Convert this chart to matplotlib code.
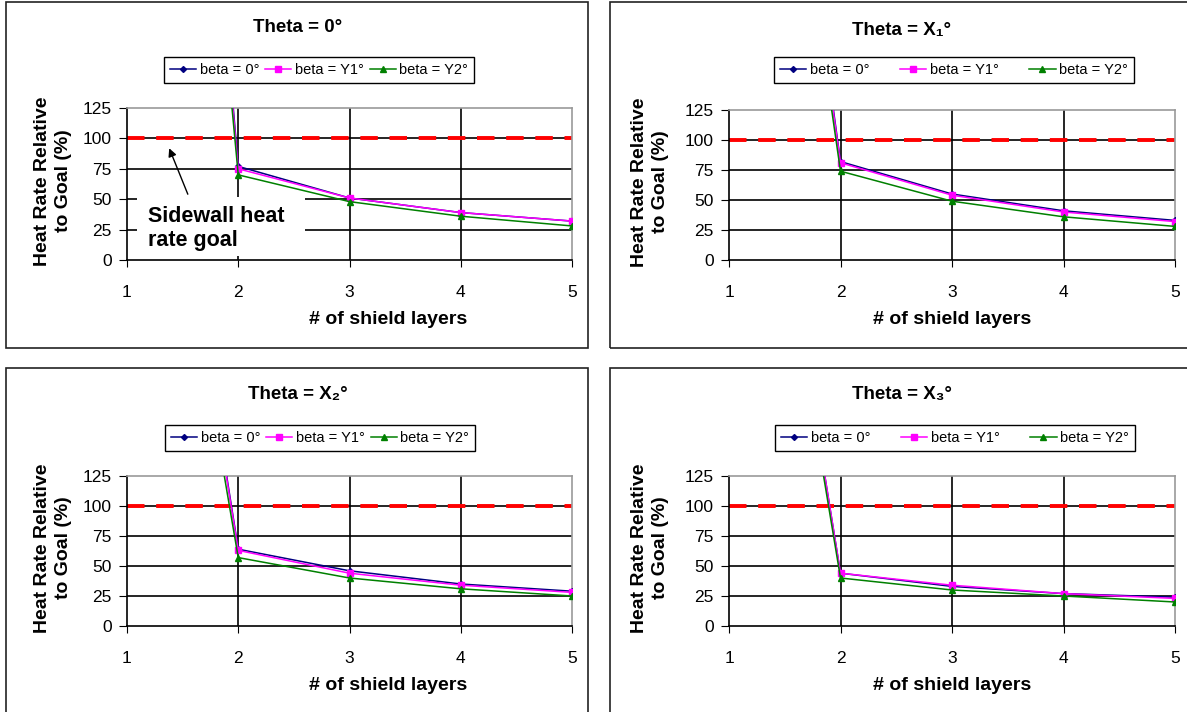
import numpy as np
import matplotlib
matplotlib.use("Agg")
import matplotlib.pyplot as plt
from matplotlib.patches import Rectangle

plt.rcParams['font.family'] = ['Liberation Sans', 'DejaVu Sans']

layers = [1, 2, 3, 4, 5]
goal = 100

# heat rate relative to goal (%), one list per panel and beta value
theta0_b0 = [1150, 77, 51, 39, 32]
theta0_y1 = [1100, 75, 51, 39, 32]
theta0_y2 = [1050, 70, 48, 36, 28]

theta1_b0 = [760, 82, 55, 41, 33]
theta1_y1 = [740, 81, 54, 40, 32]
theta1_y2 = [720, 74, 49, 36, 28]

theta2_b0 = [650, 64, 46, 35, 29]
theta2_y1 = [640, 63, 44, 34, 28]
theta2_y2 = [600, 57, 40, 31, 25]

theta3_b0 = [620, 44, 33, 27, 24]
theta3_y1 = [620, 44, 34, 27, 23]
theta3_y2 = [600, 40, 30, 25, 20]

titles = ["Theta = 0°", "Theta = X\u2081°", "Theta = X\u2082°", "Theta = X\u2083°"]
series_labels = ["beta = 0°", "beta = Y1°", "beta = Y2°"]
yticks = [0, 25, 50, 75, 100, 125]
panels = [
	(theta0_b0, theta0_y1, theta0_y2),
	(theta1_b0, theta1_y1, theta1_y2),
	(theta2_b0, theta2_y1, theta2_y2),
	(theta3_b0, theta3_y1, theta3_y2),
]

W, H = 1187, 712
fig = plt.figure(figsize=(W/100, H/100), dpi=100)

def fx(px):
	return px / W

def fy(py):
	return 1 - py / H

# panel geometry in pixels: box, axes, title, legend, labels
layout = [
	dict(box=(6, 2, 588, 348), ax=(127, 108, 572, 260), cx=298, ty=28, lx=319, ly=70, ylx=53, xlx=388, xly=320),
	dict(box=(610, 2, 1195, 348), ax=(729, 110, 1175, 260), cx=902, ty=30, lx=954, ly=70, ylx=650, xlx=952, xly=320),
	dict(box=(6, 368, 588, 720), ax=(127, 476, 572, 626), cx=298, ty=394, lx=320, ly=438, ylx=53, xlx=388, xly=685),
	dict(box=(610, 368, 1195, 720), ax=(729, 476, 1175, 626), cx=902, ty=394, lx=955, ly=438, ylx=650, xlx=952, xly=685),
]

colors = ['#000080', '#FF00FF', '#008000']
markers = ['D', 's', '^']
msizes = [3, 4.5, 4.5]

for i in range(4):
	L = layout[i]
	bx0, by0, bx1, by1 = L['box']
	fig.patches.append(Rectangle((fx(bx0), fy(by1)), fx(bx1 - bx0), (by1 - by0) / H,
		transform=fig.transFigure, fill=False, edgecolor='#222222', lw=1.2))
	ax0, ay0, ax1, ay1 = L['ax']
	ax = fig.add_axes([fx(ax0), fy(ay1), fx(ax1 - ax0), (ay1 - ay0) / H])
	ax.set_xlim(1, 5)
	ax.set_ylim(0, 125)
	ax.set_xticks(layers)
	ax.set_yticks(yticks)
	ax.tick_params(axis='x', direction='out', length=5, pad=13, labelsize=12.5)
	ax.tick_params(axis='y', direction='out', length=6, pad=5, labelsize=12.5)
	for s in ['left', 'bottom']:
		ax.spines[s].set_color('black')
		ax.spines[s].set_linewidth(1.2)
	for s in ['top', 'right']:
		ax.spines[s].set_color('#999999')
		ax.spines[s].set_linewidth(1.2)
	for y in yticks[1:-1]:
		ax.axhline(y, color='black', lw=1.2, zorder=1)
	for x in layers[1:-1]:
		ax.axvline(x, color='black', lw=1.2, zorder=1)
	ax.axhline(goal, color='red', lw=2.8, dashes=(4.5, 3), zorder=2)
	handles = []
	for k in range(3):
		h, = ax.plot(layers, panels[i][k], color=colors[k], marker=markers[k], ms=msizes[k],
			lw=1.1, zorder=3 + k, label=series_labels[k])
		handles.append(h)
	fig.text(fx(L['cx']), fy(L['ty']), titles[i], ha='center', va='center', fontsize=13.5, fontweight='bold')
	leg = fig.legend(handles, series_labels, loc='center', bbox_to_anchor=(fx(L['lx']), fy(L['ly'])),
		ncol=3, fontsize=10.5, frameon=True, fancybox=False, edgecolor='black', framealpha=1,
		handlelength=1.8, handletextpad=0.25, columnspacing=0.4 if i % 2 == 0 else 2.1,
		borderpad=0.4, numpoints=1)
	leg.get_frame().set_linewidth(1.0)
	fig.text(fx(L['ylx']), fy((ay0 + ay1) / 2 - 3), "Heat Rate Relative\nto Goal (%)", rotation=90,
		ha='center', va='center', multialignment='center', fontsize=14, fontweight='bold', linespacing=1.25)
	fig.text(fx(L['xlx']), fy(L['xly']), "# of shield layers", ha='center', va='center',
		fontsize=14, fontweight='bold')
	if i == 0:
		ax.add_patch(Rectangle((1.09, 3), 1.51, 49, facecolor='white', edgecolor='none', zorder=2.5))
		ax.text(1.19, 26, "Sidewall heat\nrate goal", ha='left', va='center', fontsize=15.5,
			fontweight='bold', zorder=6, linespacing=1.2)
		ax.annotate("", xy=(1.37, 94), xytext=(1.556, 52),
			arrowprops=dict(arrowstyle='-|>', color='black', lw=1.0, mutation_scale=12), zorder=6)

fig.savefig("out.png", dpi=100)
